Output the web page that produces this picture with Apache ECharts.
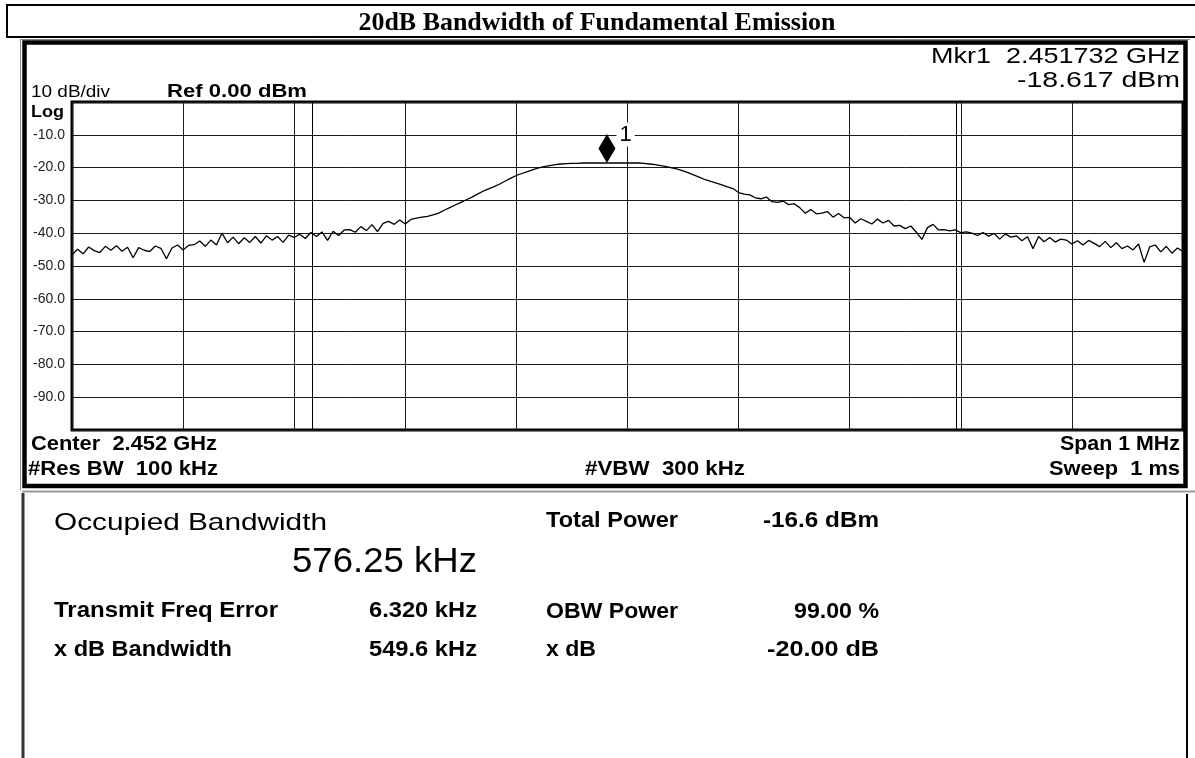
<!DOCTYPE html>
<html>
<head>
<meta charset="utf-8">
<script src="https://cdn.jsdelivr.net/npm/echarts@6/dist/echarts.min.js"></script>
<style>
html,body{margin:0;padding:0;background:#fff;}
#chart{width:1195px;height:758px;}
</style>
</head>
<body>
<div id="chart"></div>
<script>
// ---------------- DATA ----------------
const chartTitle = '20dB Bandwidth of Fundamental Emission';
const sweepStartKHz = -500;   // offset from center 2.452 GHz
const sweepStepKHz = 5;
const traceDbm = [
  -46.6, -44.9, -46.3, -44.2, -45.3, -45.9, -44.0, -45.2, -43.8, -45.5,
  -44.3, -47.5, -44.4, -45.2, -45.6, -43.9, -44.6, -47.8, -44.5, -43.6,
  -45.1, -43.7, -43.5, -42.4, -44.0, -42.1, -43.6, -40.0, -42.9, -41.2,
  -43.2, -41.4, -42.8, -41.0, -43.0, -40.8, -42.1, -41.0, -42.8, -40.6,
  -41.3, -40.3, -41.6, -39.8, -41.0, -39.6, -42.2, -39.4, -40.7, -39.0,
  -38.9, -39.7, -38.0, -39.2, -37.4, -39.5, -37.0, -36.4, -37.3, -36.0,
  -37.2, -35.8, -35.4, -35.1, -34.9, -34.4, -33.9, -33.0, -32.2, -31.4,
  -30.6, -29.8, -29.0, -28.1, -27.2, -26.5, -25.8, -25.0, -24.1, -23.2,
  -22.4, -21.8, -21.2, -20.6, -20.1, -19.7, -19.4, -19.1, -18.9, -18.8,
  -18.7, -18.7, -18.6, -18.6, -18.6, -18.6, -18.6, -18.6, -18.6, -18.6,
  -18.6, -18.6, -18.6, -18.7, -18.9, -19.1, -19.4, -19.7, -20.1, -20.5,
  -21.0, -21.6, -22.3, -23.0, -23.7, -24.2, -24.7, -25.3, -25.9, -26.4,
  -27.6, -28.1, -28.3, -29.2, -29.5, -29.0, -30.4, -30.6, -30.2, -31.3,
  -31.0, -32.2, -33.9, -32.8, -34.1, -33.9, -33.4, -35.1, -34.0, -35.3,
  -35.2, -36.9, -35.6, -36.4, -37.2, -35.7, -36.9, -36.1, -37.8, -37.6,
  -38.6, -37.8, -39.7, -41.9, -38.3, -37.3, -39.0, -38.9, -39.3, -39.0,
  -39.8, -39.6, -40.0, -40.7, -39.8, -40.9, -40.1, -41.8, -40.2, -41.2,
  -40.8, -42.3, -41.1, -44.7, -41.0, -42.6, -41.3, -42.7, -41.8, -42.1,
  -43.3, -42.3, -43.6, -42.2, -43.1, -44.1, -42.5, -44.4, -42.9, -44.7,
  -43.9, -45.1, -43.3, -48.9, -44.2, -43.6, -45.7, -44.0, -46.1, -44.5,
  -45.6
];
const marker1 = [-18.5, -18.6];          // [kHz offset, dBm] of diamond marker
const obwEdgesKHz = [-284, 296];         // occupied-bandwidth edge lines
const yTicksDbm = [0, -10, -20, -30, -40, -50, -60, -70, -80, -90, -100];
const xSpanKHz = [-500, 500];

const headerTexts = {
  scale: '10 dB/div', ref: 'Ref 0.00 dBm', log: 'Log',
  mkr1: 'Mkr1  2.451732 GHz', mkrVal: '-18.617 dBm',
  center: 'Center  2.452 GHz', rbw: '#Res BW  100 kHz', vbw: '#VBW  300 kHz',
  span: 'Span 1 MHz', sweep: 'Sweep  1 ms'
};
const resultLabels = ['Occupied Bandwidth', 'Transmit Freq Error', 'x dB Bandwidth', 'Total Power', 'OBW Power', 'x dB'];
const resultValues = ['576.25 kHz', '6.320 kHz', '549.6 kHz', '-16.6 dBm', '99.00 %', '-20.00 dB'];

// ---------------- BUILD ----------------
const traceData = traceDbm.map((v, i) => [sweepStartKHz + i * sweepStepKHz, v]);

const SANS = '"Liberation Sans", Arial, sans-serif';
const SERIF = '"Liberation Serif", "Times New Roman", serif';
const mctx = document.createElement('canvas').getContext('2d');
function T(text, x, y, size, weight, w, align, family) {
  const font = weight + ' ' + size + 'px ' + (family || SANS);
  mctx.font = font;
  const m = mctx.measureText(text).width || 1;
  return {
    type: 'text', x: x, y: y, scaleX: w ? w / m : 1, z: 100,
    style: { text: text, font: font, fill: '#000', textAlign: align, align: align,
             textVerticalAlign: 'middle', verticalAlign: 'middle' }
  };
}
function L(x1, y1, x2, y2, color, width) {
  return { type: 'line', z: 90, shape: { x1, y1, x2, y2 }, style: { stroke: color, lineWidth: width } };
}

const graphics = [
  // title box
  { type: 'rect', z: 90, shape: { x: 7, y: 5, width: 1200, height: 32 }, style: { fill: 'none', stroke: '#000', lineWidth: 2 } },
  T(chartTitle, 597, 23, 26, 'bold', 477, 'center', SERIF),
  // instrument frame
  L(20.5, 39.5, 1190, 39.5, '#888', 1),
  L(20.5, 39.5, 20.5, 490, '#888', 1),
  { type: 'rect', z: 90, shape: { x: 24.5, y: 42.5, width: 1161, height: 443.5 }, style: { fill: 'none', stroke: '#000', lineWidth: 4.5 } },
  L(22, 491.5, 1195, 491.5, '#999', 2),
  // lower panel borders
  L(23, 493, 23, 758, '#333', 3),
  L(1187, 494, 1187, 758, '#000', 2),
  // header texts
  T(headerTexts.scale, 31, 93, 16, 'normal', 79, 'left'),
  T(headerTexts.ref, 167, 92.5, 18, 'bold', 140, 'left'),
  T(headerTexts.log, 31, 112.5, 16, 'bold', 33, 'left'),
  T(headerTexts.mkr1, 1180, 56.5, 22, 'normal', 249, 'right'),
  T(headerTexts.mkrVal, 1180, 80.5, 22, 'normal', 163, 'right'),
  T(headerTexts.center, 31, 444, 21, 'bold', 186, 'left'),
  T(headerTexts.rbw, 28, 469, 21, 'bold', 190, 'left'),
  T(headerTexts.vbw, 745, 469, 21, 'bold', 160, 'right'),
  T(headerTexts.span, 1180, 444, 21, 'bold', 120, 'right'),
  T(headerTexts.sweep, 1180, 469, 21, 'bold', 131, 'right'),
  // results panel
  T(resultLabels[0], 54, 523.5, 24, 'normal', 273, 'left'),
  T(resultValues[0], 477, 562.5, 35, 'normal', 185, 'right'),
  T(resultLabels[1], 54, 611, 22, 'bold', 224, 'left'),
  T(resultValues[1], 477, 611, 22, 'bold', 108, 'right'),
  T(resultLabels[2], 54, 650, 22, 'bold', 178, 'left'),
  T(resultValues[2], 477, 650, 22, 'bold', 108, 'right'),
  T(resultLabels[3], 546, 521, 22, 'bold', 132, 'left'),
  T(resultValues[3], 879, 521, 22, 'bold', 116, 'right'),
  T(resultLabels[4], 546, 612, 22, 'bold', 132, 'left'),
  T(resultValues[4], 879, 612, 22, 'bold', 85, 'right'),
  T(resultLabels[5], 546, 650, 22, 'bold', 50, 'left'),
  T(resultValues[5], 879, 650, 22, 'bold', 112, 'right')
];

const chart = echarts.init(document.getElementById('chart'), null, { renderer: 'canvas' });
chart.setOption({
  animation: false,
  backgroundColor: '#fff',
  grid: { left: 72, right: 12, top: 102, bottom: 328, show: true, borderColor: '#000', borderWidth: 3, backgroundColor: 'transparent' },
  xAxis: {
    type: 'value', min: xSpanKHz[0], max: xSpanKHz[1], interval: 100,
    axisLine: { show: false }, axisTick: { show: false }, axisLabel: { show: false },
    splitLine: { show: true, lineStyle: { color: '#1a1a1a', width: 1 } }
  },
  yAxis: {
    type: 'value', min: yTicksDbm[yTicksDbm.length - 1], max: yTicksDbm[0], interval: 10,
    axisLine: { show: false }, axisTick: { show: false },
    axisLabel: {
      margin: 7, color: '#222', fontSize: 14, fontFamily: SANS,
      formatter: v => (v === yTicksDbm[0] || v === yTicksDbm[yTicksDbm.length - 1]) ? '' : v.toFixed(1)
    },
    splitLine: { show: true, lineStyle: { color: '#1a1a1a', width: 1 } }
  },
  series: [
    {
      type: 'line', data: traceData, showSymbol: false, symbol: 'none',
      lineStyle: { color: '#000', width: 1.3 }, z: 5,
      markLine: {
        silent: true, symbol: 'none', label: { show: false },
        lineStyle: { color: '#000', width: 1, type: 'solid' },
        data: obwEdgesKHz.map(v => ({ xAxis: v }))
      }
    },
    {
      type: 'scatter', data: [marker1], symbol: 'diamond', symbolSize: [17, 29], symbolOffset: [0, -14.5],
      itemStyle: { color: '#000', opacity: 1 }, z: 10,
      label: {
        show: true, formatter: '1', position: 'right', distance: 1, offset: [0, -14],
        color: '#000', fontSize: 22, fontFamily: SANS, backgroundColor: '#fff', padding: [1, 3]
      }
    }
  ],
  graphic: graphics
});
</script>
</body>
</html>
